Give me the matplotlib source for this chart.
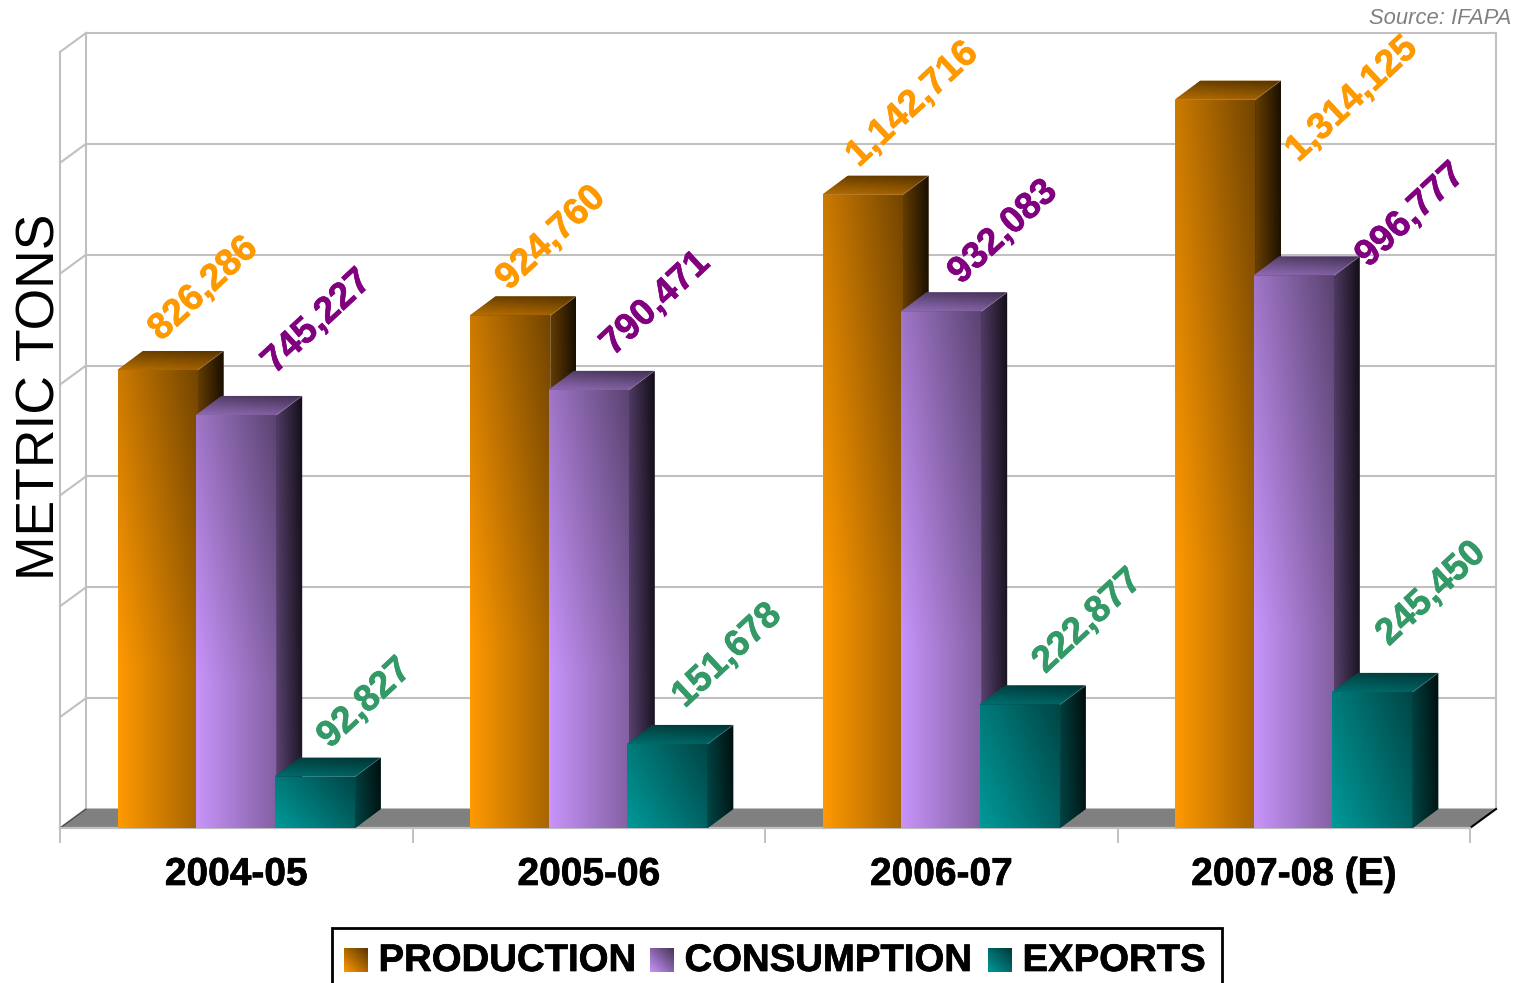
import numpy as np
import matplotlib
matplotlib.use("Agg")
import matplotlib.pyplot as plt
from matplotlib.patches import Polygon, Rectangle
import matplotlib.patheffects as pe

# ---- data ----
categories = ["2004-05", "2005-06", "2006-07", "2007-08 (E)"]
production = [826286, 924760, 1142716, 1314125]
consumption = [745227, 790471, 932083, 996777]
exports = [92827, 151678, 222877, 245450]
series_names = ["PRODUCTION", "CONSUMPTION", "EXPORTS"]
grid_values = [0, 200000, 400000, 600000, 800000, 1000000, 1200000, 1400000]

# ---- style / layout ----
W, H = 1515, 983
PX_PER_VALUE = 110.86 / 200000
PX_PER_CAT = 352.5
X0, Y0 = 60, 828
DEPTH_X, DEPTH_Y = 25.5, 19
WALL_X = 26
BAR_START, BAR_STEP, BAR_W = 57.5, 78.6, 80.5
series_colors = [(255, 153, 0), (200, 148, 250), (0, 153, 153)]
label_colors = ["#FF9900", "#800080", "#339966"]
GRID = "#C0C0C0"
FONT = "Liberation Sans"
# label centre relative to bar top centre, in pixels (x right, y down)
label_offsets = [
    [(46, -81), (41, -77), (50, -90), (137, 0)],
    [(81, -93), (67, -86), (62, -79), (117, -60)],
    [(50, -73), (60, -88), (68, -83), (59, -98)],
]

fig = plt.figure(figsize=(W / 100, H / 100), dpi=100, facecolor="white")
ax = fig.add_axes([0, 0, 1, 1])
ax.set_autoscale_on(False)
ax.set_xlim(-X0 / PX_PER_CAT, (W - X0) / PX_PER_CAT)
ax.set_ylim((Y0 - H) / PX_PER_VALUE, Y0 / PX_PER_VALUE)
ax.axis("off")

dx = DEPTH_X / PX_PER_CAT
wx = WALL_X / PX_PER_CAT
dy = DEPTH_Y / PX_PER_VALUE
top_val = grid_values[-1]
n = len(categories)
thick = [pe.withStroke(linewidth=0.5, foreground="black")]


def gx(px):
    return (px - X0) / PX_PER_CAT


def gy(py):
    return (Y0 - py) / PX_PER_VALUE


def gradient(poly, extent, base, t, z):
    base = np.array(base) / 255.0
    img = base[None, None, :] * t[:, :, None]
    # solid underlay so no white seam shows between faces
    ax.add_patch(Polygon(poly, closed=True, fc=tuple(base * float(t.mean())), ec="none", zorder=z - 0.001))
    im = ax.imshow(np.clip(img, 0, 1), extent=extent, origin="lower", aspect="auto",
                   interpolation="bilinear", zorder=z)
    patch = Polygon(poly, closed=True, transform=ax.transData, fc="none", ec="none")
    ax.add_patch(patch)
    im.set_clip_path(patch)


# ---- walls ----
ax.add_patch(Polygon([(0, 0), (wx, dy), (n + wx, dy), (n, 0)], closed=True, fc="#808080", ec="none", zorder=1))
for v in grid_values:
    ax.plot([wx, n + wx], [v + dy, v + dy], color=GRID, lw=1.5, zorder=0.5, solid_capstyle="butt")
    ax.plot([0, wx], [v, v + dy], color=GRID, lw=1.5, zorder=0.5)
for xv in (wx, n + wx):
    ax.plot([xv, xv], [dy, top_val + dy], color=GRID, lw=1.5, zorder=0.5)
ax.plot([0, 0], [0, top_val], color=GRID, lw=1.5, zorder=0.5)
ax.plot([0, n], [0, 0], color=GRID, lw=1.6, zorder=1.2)
ax.plot([n, n + wx], [0, dy], color="black", lw=1.5, zorder=1.1)
ax.plot([0, wx], [0, dy], color="#404040", lw=0.8, zorder=1.1)
for i in range(n + 1):
    ax.plot([i, i], [0, -15 / PX_PER_VALUE], color=GRID, lw=1.4, zorder=1.2, solid_capstyle="butt")

# ---- bars ----
u = np.linspace(0, 1, 64)
U, V = np.meshgrid(u, u)
z = 2.0
for i in range(n):
    for j, vals in enumerate([production, consumption, exports]):
        val = vals[i]
        x0 = i + (BAR_START + BAR_STEP * j) / PX_PER_CAT
        x1 = x0 + BAR_W / PX_PER_CAT
        col = series_colors[j]
        thr = 0.35 if val > 500000 else 0.0
        # front
        gradient([(x0, 0), (x1, 0), (x1, val), (x0, val)], [x0, x1, 0, val], col,
                 1 - 0.35 * U - 0.2 * np.clip(V - thr, 0, None) / (1 - thr), z)
        # side
        gradient([(x1, 0), (x1 + dx, dy), (x1 + dx, val + dy), (x1, val)], [x1, x1 + dx, 0, val + dy], col,
                 0.45 - 0.3 * U - 0.06 * V, z + 0.01)
        # top
        gradient([(x0, val), (x1, val), (x1 + dx, val + dy), (x0 + dx, val + dy)], [x0, x1 + dx, val, val + dy], col,
                 0.72 - 0.1 * U - 0.28 * V, z + 0.02)
        ax.plot([x1, x1 + dx], [val, val + dy], color="white", alpha=0.25, lw=0.6, zorder=z + 0.03)
        z += 0.1
        # value label
        ox, oy = label_offsets[j][i]
        ax.annotate(f"{val:,}", xy=((x0 + x1) / 2, val), xytext=(ox * 0.72, -oy * 0.72),
                    textcoords="offset points", rotation=43, rotation_mode="anchor",
                    ha="center", va="center", color=label_colors[j], fontsize=26.7,
                    fontweight="bold", family=FONT, zorder=50,
                    path_effects=[pe.withStroke(linewidth=0.5, foreground=label_colors[j])])

# ---- axis text ----
for i, c in enumerate(categories):
    ax.text(i + 0.5, gy(875), c, ha="center", va="center", fontsize=28, fontweight="bold",
            family=FONT, color="black", zorder=50, path_effects=thick)
ax.text(gx(41), gy(397), "METRIC TONS", rotation=90, ha="center", va="center", fontsize=38.5,
        family=FONT, color="black", zorder=50)
ax.text(gx(1511), gy(19), "Source: IFAPA", ha="right", va="center", fontsize=15.8, style="italic",
        family=FONT, color="#808080", zorder=50)

# ---- legend ----
ax.add_patch(Rectangle((gx(332), gy(990)), gx(1222) - gx(332), gy(928) - gy(990), fc="white", ec="black",
                       lw=2, zorder=40, clip_on=True))
swatch_x = [344, 650, 988]
for px, name, col in zip(swatch_x, series_names, series_colors):
    xa, xb, ya, yb = gx(px), gx(px + 24), gy(972), gy(948)
    gradient([(xa, ya), (xb, ya), (xb, yb), (xa, yb)], [xa, xb, ya, yb], col,
             1 - 0.65 * (0.5 * U + 0.5 * V), 41)
    ax.text(gx(px + 34.5), gy(961), name, ha="left", va="center", fontsize=27.6, fontweight="bold",
            family=FONT, color="black", zorder=42, path_effects=thick)

fig.savefig("out.png", dpi=100, facecolor="white")
